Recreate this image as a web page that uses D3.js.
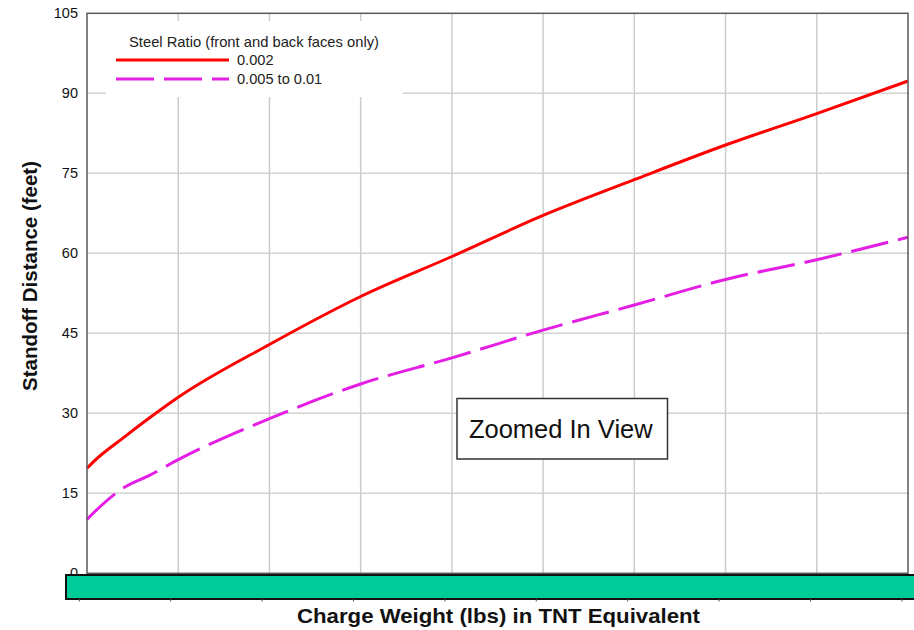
<!DOCTYPE html>
<html>
<head>
<meta charset="utf-8">
<script src="https://cdn.jsdelivr.net/npm/d3@7"></script>
<style>
  html, body { margin: 0; padding: 0; background: #ffffff; }
  svg { display: block; font-family: "Liberation Sans", Arial, sans-serif; }
</style>
</head>
<body>
<svg id="chart" width="914" height="630"></svg>
<script>
// Charge weight positions (grid units, no numeric labels on this axis)
const chargePositions = [0, 0.07, 0.39, 0.69, 1, 2, 3, 4, 5, 6, 7, 8, 9];
// Standoff distance (feet) for steel ratio 0.002
const standoffLowSteel = [19.7, 20.9, 25.3, 29.2, 33.0, 42.9, 51.9, 59.4, 67.1, 73.8, 80.3, 86.2, 92.3];
// Standoff distance (feet) for steel ratio 0.005 to 0.01
const standoffHighSteel = [10.1, 11.3, 15.9, 18.4, 21.3, 29.0, 35.5, 40.4, 45.6, 50.3, 55.1, 58.8, 63.0];
// Axis ticks
const yTicks = [0, 15, 30, 45, 60, 75, 90, 105];
const xGridTicks = [0, 1, 2, 3, 4, 5, 6, 7, 8, 9];
const seriesNames = ["0.002", "0.005 to 0.01"];

const svg = d3.select("#chart");
const plot = { left: 87, right: 908, top: 13.3, bottom: 573.3 };

const x = d3.scaleLinear().domain([0, 9]).range([plot.left, plot.right]);
const y = d3.scaleLinear().domain([0, 105]).range([plot.bottom, plot.top]);

// Grid lines
const grid = svg.append("g");
grid.selectAll("line.h").data(yTicks.slice(1, -1)).join("line")
  .attr("x1", plot.left).attr("x2", plot.right)
  .attr("y1", d => y(d)).attr("y2", d => y(d))
  .attr("stroke", "#d2d2d2").attr("stroke-width", 1.5);
grid.selectAll("line.v").data(xGridTicks.slice(1, -1)).join("line")
  .attr("x1", d => x(d)).attr("x2", d => x(d))
  .attr("y1", plot.top).attr("y2", plot.bottom)
  .attr("stroke", "#cccccc").attr("stroke-width", 1.5);

// Y axis tick labels
svg.append("g").selectAll("text").data(yTicks).join("text")
  .attr("x", 78).attr("y", d => y(d))
  .attr("dy", "0.35em")
  .attr("text-anchor", "end")
  .attr("font-size", 14.5)
  .attr("fill", "#111")
  .text(d => d);

// Curves
const line = d3.line().curve(d3.curveMonotoneX)
  .x((d, i) => x(chargePositions[i])).y(d => y(d));

svg.append("path").datum(standoffHighSteel)
  .attr("d", line).attr("fill", "none")
  .attr("stroke", "#e41ee4").attr("stroke-width", 3)
  .attr("stroke-dasharray", "38,10");

svg.append("path").datum(standoffLowSteel)
  .attr("d", line).attr("fill", "none")
  .attr("stroke", "#ff0000").attr("stroke-width", 3);

// Plot frame
svg.append("rect")
  .attr("x", plot.left).attr("y", plot.top)
  .attr("width", plot.right - plot.left).attr("height", plot.bottom - plot.top)
  .attr("fill", "none").attr("stroke", "#5a5a5a").attr("stroke-width", 1.5);

// Legend
const legend = svg.append("g");
legend.append("rect")
  .attr("x", 106).attr("y", 21).attr("width", 297).attr("height", 76)
  .attr("fill", "#ffffff");
legend.append("text")
  .attr("x", 129).attr("y", 46.5)
  .attr("font-size", 14.6).attr("fill", "#222")
  .attr("textLength", 250).attr("lengthAdjust", "spacingAndGlyphs")
  .text("Steel Ratio (front and back faces only)");
const legendRows = [
  { name: seriesNames[0], color: "#ff0000", dash: null, y: 60 },
  { name: seriesNames[1], color: "#e41ee4", dash: "38,10", y: 79 }
];
legendRows.forEach(r => {
  legend.append("line")
    .attr("x1", 116).attr("x2", 229).attr("y1", r.y).attr("y2", r.y)
    .attr("stroke", r.color).attr("stroke-width", 3)
    .attr("stroke-dasharray", r.dash);
  legend.append("text")
    .attr("x", 237).attr("y", r.y).attr("dy", "0.36em")
    .attr("font-size", 14.6).attr("fill", "#222")
    .text(r.name);
});

// Annotation box
svg.append("rect")
  .attr("x", 457).attr("y", 398.5).attr("width", 210.5).attr("height", 60.5)
  .attr("fill", "#ffffff").attr("stroke", "#333").attr("stroke-width", 1.5);
svg.append("text")
  .attr("x", 560.8).attr("y", 438)
  .attr("text-anchor", "middle")
  .attr("font-size", 25.5).attr("fill", "#111")
  .text("Zoomed In View");

// Horizontal slider bar under the plot
svg.append("rect")
  .attr("x", 66).attr("y", 575).attr("width", 860).attr("height", 24)
  .attr("fill", "#00cc99").attr("stroke", "#111").attr("stroke-width", 2);
const barTicks = d3.range(10).map(i => 79.3 + i * 91.4);
svg.append("g").selectAll("line").data(barTicks).join("line")
  .attr("x1", d => d).attr("x2", d => d)
  .attr("y1", 599).attr("y2", 601.5)
  .attr("stroke", "#555").attr("stroke-width", 1);

// Axis titles
svg.append("text")
  .attr("x", 498.5).attr("y", 623)
  .attr("text-anchor", "middle")
  .attr("font-size", 20.5).attr("font-weight", "bold").attr("fill", "#111")
  .attr("textLength", 403).attr("lengthAdjust", "spacingAndGlyphs")
  .text("Charge Weight (lbs) in TNT Equivalent");
svg.append("text")
  .attr("transform", "translate(37,276) rotate(-90)")
  .attr("text-anchor", "middle")
  .attr("font-size", 20).attr("font-weight", "bold").attr("fill", "#111")
  .attr("textLength", 230).attr("lengthAdjust", "spacingAndGlyphs")
  .text("Standoff Distance (feet)");
</script>
</body>
</html>
